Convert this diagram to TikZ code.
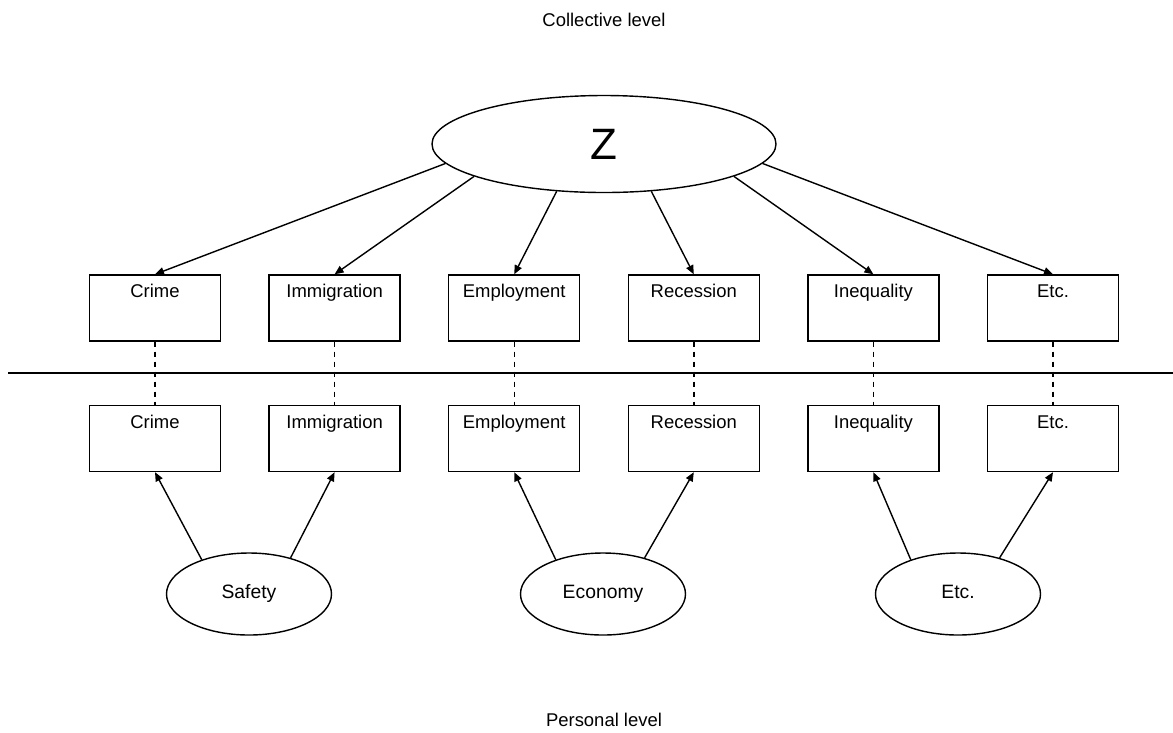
\documentclass[tikz,border=0pt]{standalone}
\usepackage{fontspec}
\setmainfont{Liberation Sans}
\usetikzlibrary{shapes.geometric,arrows.meta}

\begin{document}
\begin{tikzpicture}[
        x=0.2mm, y=-0.2mm,
        box/.style = {draw, line width=0.8pt, minimum width=2.62cm, minimum height=1.32cm, inner sep=0pt},
        boxtext/.style = {label={[anchor=base, yshift=-0.47cm, inner sep=0pt, font=\fontsize{10.5}{12}\selectfont]north:#1}},
        oval/.style = {draw, ellipse, line width=0.8pt, inner sep=0pt, text height=8pt, text depth=2.4pt,
            font=\fontsize{11}{13}\selectfont},
        arr/.style = {-{Triangle[length=1.8mm,width=1.5mm]}, line width=0.8pt},
        link/.style = {line width=0.8pt, dash pattern=on 1mm off 1mm},
        level/.style = {font=\fontsize{10.5}{12}\selectfont}
    ]
        \useasboundingbox (0,0) rectangle (1173,732);
        \node[level] (coll) at (604,20) {Collective level};
        \node[level] (pers) at (604,720) {Personal level};
        \node[oval, minimum width=6.88cm, minimum height=1.94cm, text height=17.9pt, text depth=0pt,
            font=\fontsize{25}{28}\selectfont] (z) at (604,144) {Z};
        % the two rows of boxes
        \foreach \n/\t/\a [count=\i] in {crime/Crime/187, immig/Immigration/194.5, employ/Employment/225,
                recess/Recession/315, ineq/Inequality/346, etc/Etc./353} {
            \node[box, boxtext=\t] (\n-c) at ({155+(\i-1)*179.6},308) {};
            \node[box, boxtext=\t] (\n-p) at ({155+(\i-1)*179.6},438.5) {};
            \draw[link] (\n-c.south) -- (\n-p.north);
            \draw[arr] (z.\a) -- (\n-c.north);
        }
        \coordinate (left) at (8,373);
        \coordinate (right) at (1173,373);
        \draw[line width=1.3pt] (left) -- (right);
        % factors at the personal level
        \foreach \n/\t/\x/\l/\r in {safety/Safety/249/crime/immig, economy/Economy/603/employ/recess,
                other/Etc./958/ineq/etc} {
            \node[oval, minimum width=3.3cm, minimum height=1.64cm] (\n) at (\x,594) {\t};
            \draw[arr] (\n.144) -- (\l-p.south);
            \draw[arr] (\n.41) -- (\r-p.south);
        }
    \end{tikzpicture}
\end{document}
